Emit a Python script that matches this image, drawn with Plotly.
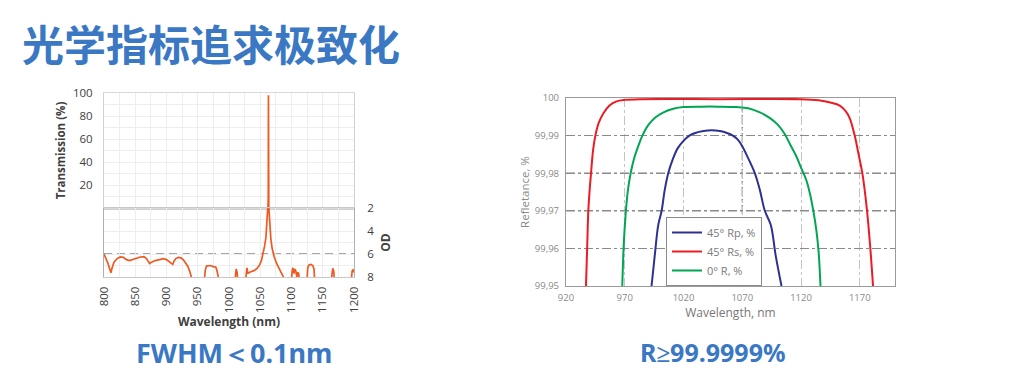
import plotly.graph_objects as go

# ---------------- data: left chart (transmission / OD) ----------------
peak_wl = [1062.2, 1062.5, 1062.75, 1062.9, 1063.0, 1063.1, 1063.2, 1063.3, 1063.45, 1063.7, 1064.0]
peak_T = [0.0, 2.0, 8.0, 25.0, 60.0, 98.0, 60.0, 25.0, 8.0, 2.0, 0.0]

od_wl = [800, 803, 806, 809, 811, 813, 816, 821, 826, 831, 836, 841, 846, 852, 858, 864,
         868, 871, 873, 876, 882, 889, 895, 900, 904, 908, 910, 912, 915, 919, 923, 927,
         931, 934, 937, 940, 943,
         960, 962, 964, 967, 970, 975, 979, 981, 983, 985,
         1009, 1010.5, 1011.5, 1013, 1014.5,
         1026, 1027.5, 1028.8, 1030, 1031, 1035, 1040, 1045, 1049, 1052, 1055, 1057, 1059,
         1060.5, 1061.5, 1062.3, 1062.7, 1063.1,
         1063.5, 1063.9, 1064.6, 1065.5, 1067, 1069, 1072, 1076, 1080, 1084, 1087, 1089.5,
         1099.5, 1101, 1102.4, 1104, 1105.5, 1107, 1108.5, 1110, 1111.5, 1113,
         1124.5, 1126, 1128, 1131, 1134, 1136, 1137.5,
         1163, 1164.5, 1166, 1167.5, 1169,
         1195, 1197, 1198.5, 1200]
od_val = [6.0, 6.34, 6.77, 7.29, 7.63, 7.2, 6.71, 6.4, 6.26, 6.29, 6.49, 6.57, 6.49, 6.34, 6.26, 6.23,
          6.4, 6.66, 6.83, 6.71, 6.57, 6.49, 6.4, 6.49, 6.66, 6.83, 6.91, 6.63, 6.4, 6.29, 6.34, 6.51,
          6.77, 7.06, 7.49, 7.91, 8.6,
          8.6, 7.4, 7.05, 7.0, 7.0, 7.1, 7.15, 7.5, 8.0, 8.6,
          8.6, 7.4, 7.3, 7.6, 8.6,
          8.6, 7.5, 7.2, 7.6, 7.65, 7.55, 7.45, 7.25, 6.95, 6.55, 5.9, 5.3, 4.6,
          3.8, 3.0, 2.3, 1.8, 1.0,
          1.8, 2.3, 2.9, 3.8, 4.7, 5.5, 6.2, 6.8, 7.2, 7.7, 8.0, 8.6,
          8.6, 7.5, 7.2, 7.7, 7.3, 7.5, 8.0, 7.6, 7.7, 8.6,
          8.6, 7.2, 6.95, 6.9, 7.0, 7.3, 8.6,
          8.6, 7.5, 7.25, 7.5, 8.6,
          8.6, 7.5, 7.35, 7.6]

left_x_ticks = [800, 850, 900, 950, 1000, 1050, 1100, 1150, 1200]
left_T_ticks = [20, 40, 60, 80, 100]
left_OD_ticks = [2, 4, 6, 8]
od_dashed_level = 6
od_solid_level = 2

# ---------------- data: right chart (reflectance) ----------------
rp_wl = [992.8, 995.5, 998.5, 1001.4, 1004, 1007, 1011, 1015, 1020, 1025, 1030, 1037, 1044,
         1051, 1057, 1062, 1066, 1070, 1075, 1080.7, 1085, 1089.2, 1094.3, 1098.5, 1103.4]
rp_val = [99.95, 99.958, 99.9662, 99.97, 99.9755, 99.98, 99.9838, 99.9866, 99.9886, 99.99, 99.9907,
          99.9912, 99.9914, 99.9912, 99.9907, 99.99, 99.989, 99.9872, 99.984, 99.98, 99.9755, 99.97,
          99.9662, 99.958, 99.95]

rs_wl = [937, 938, 939, 940, 941.3, 943, 945, 948, 952, 957, 963, 970, 985, 1050, 1120,
         1135, 1145, 1153, 1158, 1161.5, 1165.7, 1169, 1172.2, 1176.2, 1179, 1181.3]
rs_val = [99.95, 99.96, 99.97, 99.975, 99.98, 99.986, 99.99, 99.9935, 99.996, 99.998, 99.9991,
          99.9995, 99.9997, 99.9997, 99.9997, 99.9994, 99.9988, 99.998, 99.9965, 99.9946, 99.99,
          99.985, 99.98, 99.97, 99.96, 99.95]

r0_wl = [967.9, 969, 970.5, 972.5, 975, 978, 981.5, 985, 990, 996, 1003, 1012, 1020, 1035, 1050,
         1065, 1075, 1085, 1093, 1100, 1106, 1111, 1116, 1120, 1124.7, 1128, 1130.5, 1133, 1135, 1136.6]
r0_val = [99.95, 99.96, 99.968, 99.975, 99.98, 99.984, 99.9872, 99.99, 99.9928, 99.9948, 99.9962,
          99.9972, 99.9976, 99.9977, 99.9977, 99.9976, 99.9973, 99.9962, 99.9948, 99.993, 99.9905,
          99.9875, 99.9845, 99.9815, 99.978, 99.974, 99.97, 99.965, 99.959, 99.95]

right_x_ticks = [920, 970, 1020, 1070, 1120, 1170]
right_y_ticks = [99.95, 99.96, 99.97, 99.98, 99.99, 100]
right_y_labels = ["99,95", "99,96", "99,97", "99,98", "99,99", "100"]
dark_grid_x = [1070]
dark_grid_y = [99.97, 99.98]

series_names = ["45° Rp, %", "45° Rs, %", "0° R, %"]
series_colors = ["#2e3192", "#ed1c24", "#00a651"]

title_text = "光学指标追求极致化"
caption_left = "FWHM＜0.1nm"
caption_right = "R≥99.9999%"

# ---------------- figure ----------------
W, H = 1026, 382


def px_x(p):
    return p / W


def px_y(p):
    return 1 - p / H


ORANGE = "#f05a22"
fig = go.Figure()

fig.add_trace(go.Scatter(x=peak_wl, y=peak_T, xaxis="x", yaxis="y", mode="lines",
                         line=dict(color=ORANGE, width=1.7), showlegend=False))
fig.add_trace(go.Scatter(x=od_wl, y=od_val, xaxis="x2", yaxis="y2", mode="lines",
                         line=dict(color=ORANGE, width=1.7), showlegend=False))

for wl, val, name, col in zip([rp_wl, rs_wl, r0_wl], [rp_val, rs_val, r0_val], series_names, series_colors):
    fig.add_trace(go.Scatter(x=wl, y=val, xaxis="x3", yaxis="y3", mode="lines", name=name,
                             line=dict(color=col, width=2, shape="spline", smoothing=1.0)))

left_dom = [px_x(104), px_x(354)]
LFONT = "Open Sans"
fig.update_layout(
    width=W, height=H, margin=dict(l=0, r=0, t=0, b=0),
    paper_bgcolor="white", plot_bgcolor="white",
    font=dict(family=LFONT, color="#404040"),
    xaxis=dict(domain=left_dom, anchor="y", range=[800, 1200], showticklabels=False, ticks="",
               showgrid=True, dtick=25, gridcolor="#eeeeee", gridwidth=1,
               showline=True, mirror=True, linecolor="#d9d9d9", zeroline=False, automargin=False),
    yaxis=dict(domain=[px_y(208), px_y(93)], anchor="x", range=[0, 100], tickvals=left_T_ticks,
               ticks="", ticklabelstandoff=8, tickfont=dict(size=11.5, color="#404040"),
               showgrid=True, gridcolor="#eeeeee", minor=dict(dtick=10, showgrid=True, gridcolor="#eeeeee"),
               showline=True, mirror=True, linecolor="#d0d0d0", zeroline=False, automargin=False,
               title=dict(text="<b>Transmission (%)</b>", font=dict(size=11.5, color="#404040"), standoff=4)),
    xaxis2=dict(domain=left_dom, anchor="y2", range=[800, 1200], tickvals=left_x_ticks, tickangle=-90,
                ticks="", tickfont=dict(size=11.5, color="#404040"), ticklabelstandoff=4,
                showgrid=True, gridcolor="#eeeeee", minor=dict(dtick=25, showgrid=True, gridcolor="#eeeeee"),
                showline=True, mirror=True, linecolor="#c8c8c8", zeroline=False, automargin=False,
                title=dict(text="<b>Wavelength (nm)</b>", font=dict(size=12, color="#404040"), standoff=4)),
    yaxis2=dict(domain=[px_y(277), px_y(208)], anchor="x2", range=[8, 2], side="right",
                tickvals=left_OD_ticks, ticks="", tickfont=dict(size=11.5, color="#404040"), ticklabelstandoff=10,
                showgrid=True, gridcolor="#eeeeee",
                minor=dict(tickmode="linear", tick0=2, dtick=1, showgrid=True, gridcolor="#eeeeee"),
                showline=True, mirror=True, linecolor="#b0b0b0", zeroline=False, automargin=False,
                title=dict(text="<b>OD</b>", font=dict(size=12, color="#404040"), standoff=8)),
    xaxis3=dict(domain=[px_x(566), px_x(895)], anchor="y3", range=[920, 1200], tickvals=right_x_ticks,
                ticks="", tickfont=dict(size=9.5, color="#8a8a8a"), ticklabelstandoff=2,
                showgrid=True, gridcolor="#c4c4c4", griddash="dashdot", gridwidth=1,
                showline=True, mirror=True, linecolor="#9a9a9a", linewidth=1.2, zeroline=False, automargin=False,
                title=dict(text="Wavelength, nm", font=dict(size=12, color="#777777"), standoff=6)),
    yaxis3=dict(domain=[px_y(286), px_y(98)], anchor="x3", range=[99.95, 100], tickvals=right_y_ticks,
                ticktext=right_y_labels, ticks="", tickfont=dict(size=9.5, color="#8a8a8a"), ticklabelstandoff=4,
                showgrid=True, gridcolor="#8a8a8a", griddash="dashdot", gridwidth=1,
                showline=True, mirror=True, linecolor="#9a9a9a", linewidth=1.2, zeroline=False, automargin=False,
                title=dict(text="Refletance, %", font=dict(size=11.5, color="#8a8a8a"), standoff=2)),
    legend=dict(x=px_x(666), y=px_y(217), xanchor="left", yanchor="top", bgcolor="white",
                bordercolor="#8a8a8a", borderwidth=1, font=dict(size=11, color="#7a7a7a", family=LFONT),
                itemwidth=30, tracegroupgap=0),
    showlegend=True,
)

shapes = []
# OD reference lines
shapes.append(dict(type="line", xref="x2 domain", yref="y2", x0=0, x1=1, y0=od_solid_level, y1=od_solid_level,
                   line=dict(color="#a0a0a0", width=3), layer="below"))
shapes.append(dict(type="line", xref="x2 domain", yref="y2", x0=0, x1=1, y0=od_dashed_level, y1=od_dashed_level,
                   line=dict(color="#a6a6a6", width=2, dash="8px,5px"), layer="below"))
# darker grid lines of the right chart
for gx in dark_grid_x:
    shapes.append(dict(type="line", xref="x3", yref="y3 domain", x0=gx, x1=gx, y0=0, y1=1,
                       line=dict(color="#555555", width=1, dash="dashdot"), layer="below"))
for gy in dark_grid_y:
    shapes.append(dict(type="line", xref="x3 domain", yref="y3", x0=0, x1=1, y0=gy, y1=gy,
                       line=dict(color="#3a3a3a", width=1, dash="dashdot"), layer="below"))
fig.update_layout(shapes=shapes)

BLUE = "#3a78c4"
fig.add_annotation(text=f"<b>{title_text}</b>", xref="paper", yref="paper", x=px_x(20), y=px_y(42),
                   xanchor="left", yanchor="middle", showarrow=False,
                   font=dict(family="Noto Sans CJK SC", size=42, color=BLUE))
fig.add_annotation(text=f"<b>{caption_left}</b>", xref="paper", yref="paper", x=px_x(234), y=px_y(352),
                   xanchor="center", yanchor="middle", showarrow=False,
                   font=dict(family="Noto Sans", size=27, color=BLUE))
fig.add_annotation(text=f"<b>{caption_right}</b>", xref="paper", yref="paper", x=px_x(713), y=px_y(352),
                   xanchor="center", yanchor="middle", showarrow=False,
                   font=dict(family="Noto Sans", size=25, color=BLUE))

fig.write_html("out.html")
